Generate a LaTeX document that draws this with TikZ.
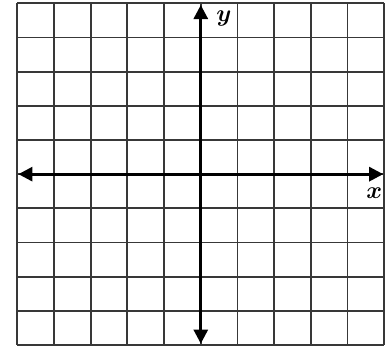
\documentclass[tikz,border=0pt]{standalone}
\usetikzlibrary{arrows.meta}

\begin{document}
\begin{tikzpicture}[x=36.7pt,y=34.17pt]
\tikzstyle{gridline}=[color=black!78,line width=1.8pt]
\tikzstyle{axis}=[color=black,line width=2.8pt,{Triangle[length=14pt,width=14pt]}-{Triangle[length=14pt,width=14pt]}]
\tikzstyle{axislabel}=[inner sep=0pt,scale=2.4,font=\boldmath]

\useasboundingbox (-0.4714,-0.0585) rectangle (10.183,10.097);

%grid lines
\draw[gridline,step=1] (0,0) grid (10,10);

%ends of the axes
\coordinate (xleft) at (0.03,5);
\coordinate (xright) at (9.97,5);
\coordinate (ybottom) at (5,0.04);
\coordinate (ytop) at (5,9.95);

%axes
\draw[axis] (xleft) -- (xright);
\draw[axis] (ybottom) -- (ytop);

%labels
\node[axislabel] (xlab) at (9.73,4.43) {$x$};
\node[axislabel] (ylab) at (5.63,9.56) {$y$};
\end{tikzpicture}
\end{document}
